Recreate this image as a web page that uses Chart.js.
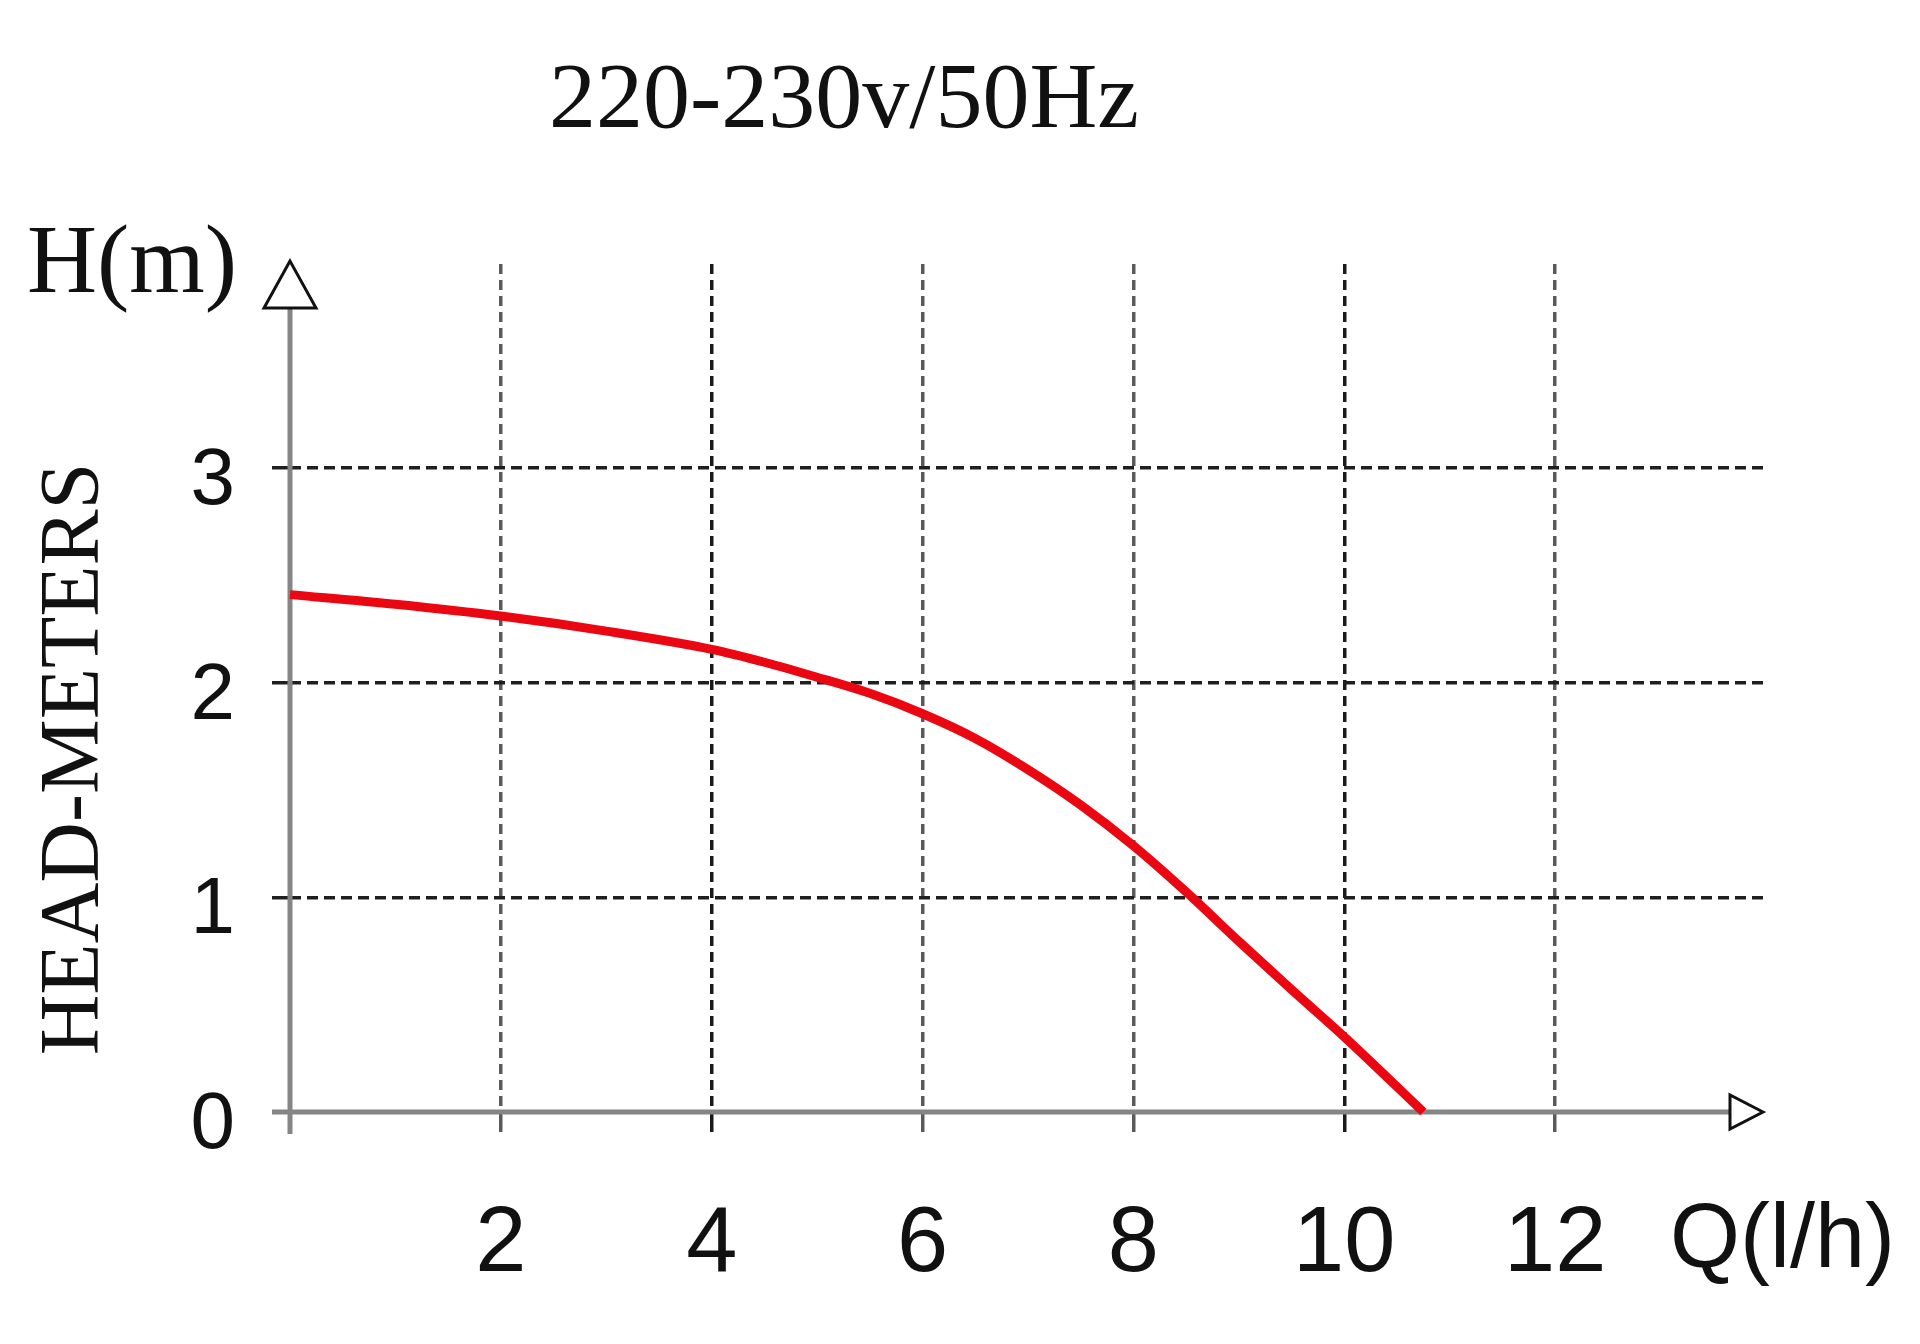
<!DOCTYPE html>
<html>
<head>
<meta charset="utf-8">
<script src="https://cdn.jsdelivr.net/npm/chart.js@4.4.1/dist/chart.umd.min.js"></script>
<style>
  html, body { margin: 0; padding: 0; background: #fff; }
  #wrap { width: 1920px; height: 1344px; }
</style>
</head>
<body>
<div id="wrap"><canvas id="pump" width="1920" height="1344"></canvas></div>
<script>
// pump curve
const flowValues = [0, 1, 2, 3, 4, 4.5, 5, 5.5, 6, 6.5, 7, 7.5, 8, 8.5, 9, 9.5, 10, 10.75];
const headValues = [2.41, 2.365, 2.31, 2.24, 2.155, 2.095, 2.025, 1.95, 1.855, 1.74, 1.595, 1.43, 1.24, 1.025, 0.795, 0.57, 0.35, 0.0];

const xTicks = [0, 2, 4, 6, 8, 10, 12];
const yTicks = [0, 1, 2, 3];

const titleText = "220-230v/50Hz";
const yUnitText = "H(m)";
const yAxisText = "HEAD-METERS";
const xUnitText = "Q(l/h)";

const serif = '"Liberation Serif", "DejaVu Serif", serif';
const sans = '"Liberation Sans", Arial, sans-serif';

// axes with open arrow heads plus the free text around the chart
const decorations = {
  id: "decorations",
  beforeDatasetsDraw(chart) {
    const { ctx, chartArea } = chart;
    const x0 = chart.scales.x.getPixelForValue(0);
    const y0 = chart.scales.y.getPixelForValue(0);
    ctx.save();
    ctx.strokeStyle = "#858585";
    ctx.lineWidth = 5;
    ctx.beginPath();
    ctx.moveTo(x0 - 18, y0);
    ctx.lineTo(chartArea.right - 30, y0);
    ctx.moveTo(x0, y0 + 22);
    ctx.lineTo(x0, chartArea.top + 44);
    ctx.stroke();

    ctx.strokeStyle = "#111";
    ctx.fillStyle = "#fff";
    ctx.lineWidth = 3;
    // up arrow
    ctx.beginPath();
    ctx.moveTo(x0, chartArea.top - 3);
    ctx.lineTo(x0 - 26, chartArea.top + 44);
    ctx.lineTo(x0 + 26, chartArea.top + 44);
    ctx.closePath();
    ctx.fill();
    ctx.stroke();
    // right arrow
    ctx.beginPath();
    ctx.moveTo(chartArea.right - 3, y0);
    ctx.lineTo(chartArea.right - 36, y0 - 17);
    ctx.lineTo(chartArea.right - 36, y0 + 17);
    ctx.closePath();
    ctx.fill();
    ctx.stroke();
    ctx.restore();
  },
  afterDraw(chart) {
    const { ctx } = chart;
    ctx.save();
    ctx.fillStyle = "#111";
    ctx.textBaseline = "alphabetic";

    ctx.font = "94px " + serif;
    ctx.textAlign = "center";
    ctx.fillText(titleText, 844, 127);

    ctx.font = "97px " + serif;
    ctx.textAlign = "left";
    ctx.fillText(yUnitText, 27, 292);

    ctx.font = "90px " + sans;
    ctx.fillText(xUnitText, 1670, 1267);

    ctx.translate(98, 759);
    ctx.rotate(-Math.PI / 2);
    ctx.font = "84px " + serif;
    ctx.textAlign = "center";
    ctx.fillText(yAxisText, 0, 0);
    ctx.restore();
  }
};

new Chart(document.getElementById("pump"), {
  type: "line",
  data: {
    datasets: [{
      data: flowValues.map((q, i) => ({ x: q, y: headValues[i] })),
      borderColor: "#ea0712",
      borderWidth: 9,
      pointRadius: 0,
      cubicInterpolationMode: "monotone",
      clip: false
    }]
  },
  options: {
    responsive: false,
    animation: false,
    layout: { padding: { top: 264, right: 154, left: 0, bottom: 0 } },
    plugins: { legend: { display: false }, tooltip: { enabled: false } },
    scales: {
      x: {
        type: "linear",
        min: 0,
        max: 14,
        afterBuildTicks: (scale) => { scale.ticks = xTicks.map((v) => ({ value: v })); },
        afterFit: (scale) => { scale.height = 232; },
        ticks: {
          padding: 58,
          color: "#111",
          font: { family: sans, size: 92 },
          callback: (v) => (v === 0 ? "" : String(v))
        },
        grid: {
          lineWidth: 3.5,
          tickLength: 20,
          color: (c) => {
            const v = c.tick && c.tick.value;
            if (v === 0) return "rgba(0,0,0,0)";
            return v === 4 || v === 10 ? "#1a1a1a" : "#5a5a5a";
          }
        },
        border: { display: false, dash: [10, 6] }
      },
      y: {
        type: "linear",
        min: 0,
        max: 3.95,
        afterBuildTicks: (scale) => { scale.ticks = yTicks.map((v) => ({ value: v })); },
        afterFit: (scale) => { scale.width = 290; },
        ticks: {
          padding: 37,
          labelOffset: 14,
          color: "#111",
          font: { family: sans, size: 80 },
          callback: (v) => String(v)
        },
        grid: {
          lineWidth: 3.5,
          tickLength: 18,
          color: (c) => (c.tick && c.tick.value === 0 ? "rgba(0,0,0,0)" : "#1f1f1f")
        },
        border: { display: false, dash: [11, 6] }
      }
    }
  },
  plugins: [decorations]
});
</script>
</body>
</html>
